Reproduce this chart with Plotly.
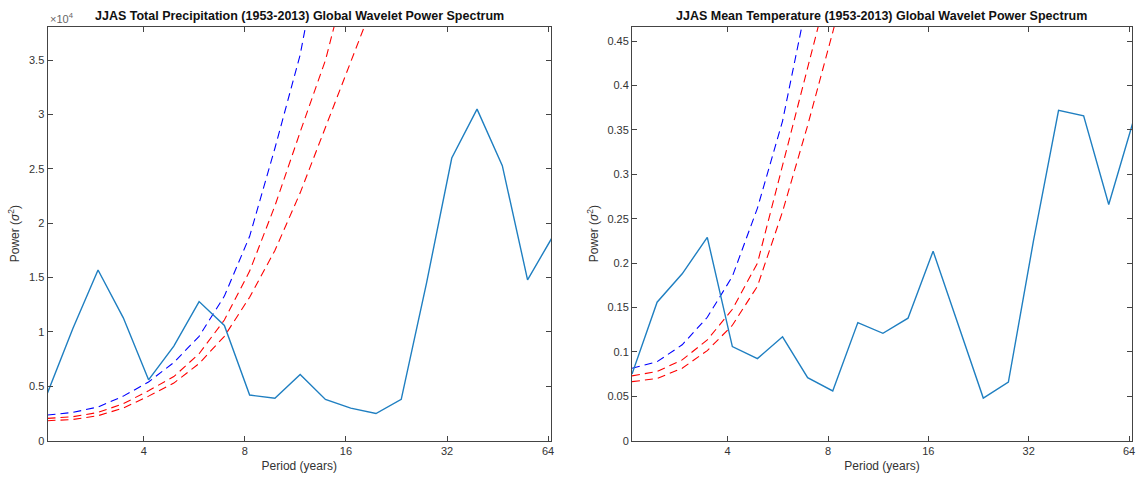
import plotly.graph_objects as go

# periods (years) of the wavelet scales
period = [2.066, 2.457, 2.922, 3.475, 4.132, 4.914, 5.844, 6.950, 8.265, 9.829,
          11.689, 13.901, 16.531, 19.659, 23.379, 27.803, 33.063, 39.320, 46.759,
          55.607, 66.13]

# precipitation global wavelet spectrum and significance curves
precip_power = [4400, 10300, 15700, 11300, 5600, 8700, 12800, 10600, 4200, 3900,
                6100, 3800, 3000, 2500, 3800, 14500, 26000, 30500, 25300, 14800, 18800]
precip_sig_blue = [2360, 2600, 3100, 4100, 5400, 7200, 9600, 13300, 18800, 26900,
                   35500, 47000, 60000, 75000, 90000, 105000, 120000, 135000,
                   150000, 165000, 180000]
precip_sig_red1 = [2050, 2200, 2600, 3400, 4600, 5900, 8000, 11100, 15600, 21600,
                   28400, 35000, 44000, 51000, 58000, 65000, 72000, 79000, 86000,
                   93000, 100000]
precip_sig_red2 = [1840, 1950, 2300, 3000, 4100, 5300, 7100, 9600, 13200, 17500,
                   22800, 28900, 35000, 41000, 47000, 53000, 59000, 65000, 71000,
                   77000, 83000]

# temperature global wavelet spectrum and significance curves
temp_power = [0.075, 0.156, 0.188, 0.229, 0.106, 0.0925, 0.117, 0.071, 0.056, 0.133,
              0.121, 0.138, 0.2135, 0.13, 0.048, 0.066, 0.225, 0.372, 0.366, 0.266, 0.362]
temp_sig_blue = [0.0816, 0.089, 0.108, 0.139, 0.185, 0.262, 0.36, 0.49, 0.62, 0.76,
                 0.90, 1.04, 1.18, 1.32, 1.46, 1.60, 1.74, 1.88, 2.02, 2.16, 2.30]
temp_sig_red1 = [0.073, 0.078, 0.091, 0.1135, 0.148, 0.20, 0.31, 0.42, 0.53, 0.64,
                 0.75, 0.86, 0.97, 1.08, 1.19, 1.30, 1.41, 1.52, 1.63, 1.74, 1.85]
temp_sig_red2 = [0.0665, 0.070, 0.0816, 0.1015, 0.130, 0.174, 0.258, 0.355, 0.46, 0.57,
                 0.68, 0.79, 0.90, 1.01, 1.12, 1.23, 1.34, 1.45, 1.56, 1.67, 1.78]

xticks = [4, 8, 16, 32, 64]
precip_yticks = [0, 5000, 10000, 15000, 20000, 25000, 30000, 35000]
precip_ytext = ['0', '0.5', '1', '1.5', '2', '2.5', '3', '3.5']
temp_yticks = [0, 0.05, 0.1, 0.15, 0.2, 0.25, 0.3, 0.35, 0.4, 0.45]
temp_ytext = ['0', '0.05', '0.1', '0.15', '0.2', '0.25', '0.3', '0.35', '0.4', '0.45']

LINE = '#1f7fc1'
FONT = 'Liberation Sans, Arial, sans-serif'
W, H = 1137, 477

fig = go.Figure()


def add_panel(xa, ya, power, blue, red1, red2):
    for ys, col in [(blue, '#0000ff'), (red1, '#ff0000'), (red2, '#ff0000')]:
        fig.add_trace(go.Scatter(x=period, y=ys, mode='lines', xaxis=xa, yaxis=ya,
                                 line=dict(color=col, width=1.1, dash='8px,5px'),
                                 showlegend=False, hoverinfo='skip'))
    fig.add_trace(go.Scatter(x=period, y=power, mode='lines', xaxis=xa, yaxis=ya,
                             line=dict(color=LINE, width=1.4), showlegend=False))


add_panel('x', 'y', precip_power, precip_sig_blue, precip_sig_red1, precip_sig_red2)
add_panel('x2', 'y2', temp_power, temp_sig_blue, temp_sig_red1, temp_sig_red2)

ydom = [1 - 440.7 / H, 1 - 26.5 / H]
axis_common = dict(showline=True, linecolor='#444', linewidth=1, mirror='ticks',
                   ticks='inside', ticklen=5, tickcolor='#444', showgrid=False,
                   zeroline=False, automargin=False,
                   tickfont=dict(family=FONT, size=11, color='#333'))

xr = [0.31513, 1.81491]  # log10 of 2.066 .. 65.3
xtitle = dict(text='Period (years)', standoff=5, font=dict(family=FONT, size=12, color='#333'))
ytitle = dict(text='Power (<i>σ</i><sup>2</sup>)', standoff=6,
              font=dict(family=FONT, size=12, color='#333'))
fig.update_layout(
    width=W, height=H, margin=dict(l=0, r=0, t=0, b=0),
    plot_bgcolor='white', paper_bgcolor='white',
    font=dict(family=FONT, size=11, color='#333'),
    xaxis=dict(domain=[47.5 / W, 551 / W], type='log', range=xr, tickvals=xticks,
               ticktext=[str(t) for t in xticks], anchor='y', title=xtitle, **axis_common),
    yaxis=dict(domain=ydom, range=[0, 38100], tickvals=precip_yticks,
               ticktext=precip_ytext, anchor='x', title=ytitle, **axis_common),
    xaxis2=dict(domain=[632 / W, 1132 / W], type='log', range=xr, tickvals=xticks,
                ticktext=[str(t) for t in xticks], anchor='y2', title=xtitle, **axis_common),
    yaxis2=dict(domain=ydom, range=[0, 0.4665], tickvals=temp_yticks,
                ticktext=temp_ytext, anchor='x2', title=ytitle, **axis_common),
    annotations=[
        dict(text='<b>JJAS Total Precipitation (1953-2013) Global Wavelet Power Spectrum</b>',
             x=299 / W, y=1 - 16 / H, xref='paper', yref='paper', showarrow=False,
             xanchor='center', yanchor='middle',
             font=dict(family=FONT, size=12.5, color='#111')),
        dict(text='<b>JJAS Mean Temperature (1953-2013) Global Wavelet Power Spectrum</b>',
             x=882 / W, y=1 - 16 / H, xref='paper', yref='paper', showarrow=False,
             xanchor='center', yanchor='middle',
             font=dict(family=FONT, size=12.5, color='#111')),
        dict(text='×10<sup>4</sup>', x=48 / W, y=1 - 18 / H, xref='paper', yref='paper',
             showarrow=False, xanchor='left', yanchor='middle',
             font=dict(family=FONT, size=11, color='#666')),
    ],
)

fig.write_html("out.html", config={'displayModeBar': False},
               post_script="document.body.style.margin='0';")
